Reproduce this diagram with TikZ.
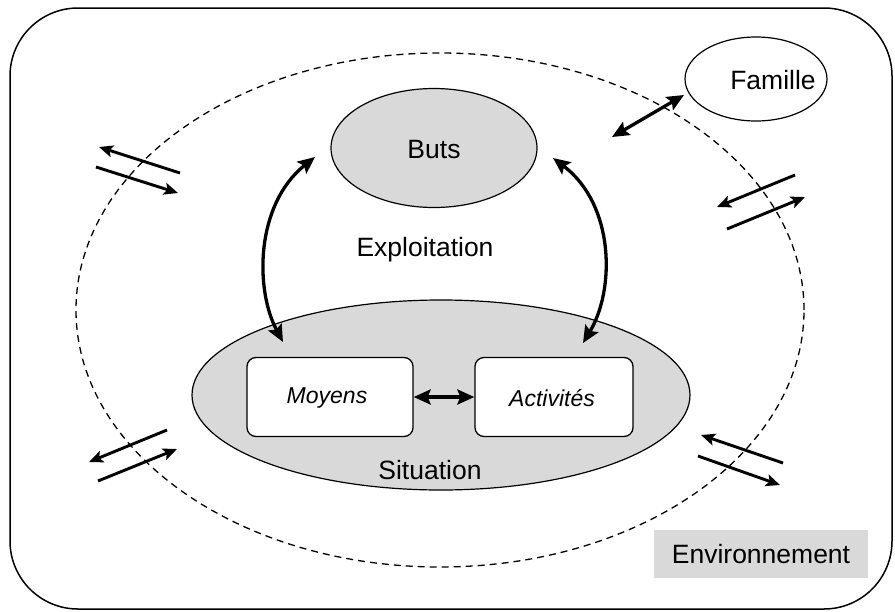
\documentclass[tikz,border=0pt]{standalone}
\usepackage{fontspec}
\setmainfont{Liberation Sans}
\usetikzlibrary{arrows.meta,shapes.geometric}
\definecolor{shade}{HTML}{D9D9D9}
\begin{document}
\begin{tikzpicture}[x=1pt,y=-1pt,
  lbl/.style={font=\fontsize{26.5}{31}\selectfont, inner sep=0pt},
  ilbl/.style={font=\fontsize{23}{27}\selectfont\itshape, inner sep=0pt},
  oval/.style={ellipse, draw, line width=1.2pt, inner sep=0pt},
  box/.style={draw, line width=1.3pt, fill=white, rounded corners=9pt, minimum width=166pt, minimum height=79pt, inner sep=0pt},
  big/.style={line width=3.3pt, {Stealth[length=17pt,width=15pt,inset=3pt]}-{Stealth[length=17pt,width=15pt,inset=3pt]}},
  small/.style={line width=2.9pt, -{Stealth[length=14pt,width=12pt,inset=3pt]}}]
\useasboundingbox (0,0) rectangle (895,611);
% outer frame
\draw[line width=1.5pt, rounded corners=68pt] (10,8) rectangle (892,609);
% environment ellipse
\node[ellipse, draw, dashed, dash pattern=on 7pt off 5pt, line width=1.3pt, minimum width=728pt, minimum height=514pt, inner sep=0pt] (env) at (440,310) {};
% Buts
\node[oval, fill=shade, minimum width=206pt, minimum height=119pt] (buts) at (434,148) {};
\node[lbl] (butst) at (434,150) {Buts};
% Famille
\node[oval, fill=white, minimum width=142pt, minimum height=84pt] (fam) at (756,79) {};
\node[lbl] (famt) at (773,80) {Famille};
% Situation
\node[oval, fill=shade, minimum width=498pt, minimum height=190pt] (sit) at (441,395) {};
\node[lbl] (sitt) at (430,470) {Situation};
\node[box] (moy) at (330,397) {};
\node[ilbl] (moyt) at (327,398) {Moyens};
\node[box, minimum width=158pt] (act) at (554,397) {};
\node[ilbl] (actt) at (552,398) {Activités};
\node[lbl] (expl) at (425,250) {Exploitation};
% Environnement
\node[fill=shade, minimum width=214pt, minimum height=48pt, inner sep=0pt] (envb) at (761,554) {};
\node[lbl] (envt) at (761,554) {Environnement};
% arrows
\draw[big] (moy.east) -- (act.west);
\coordinate (l1) at (315,157); \coordinate (l2) at (283,342);
\coordinate (r1) at (553,158); \coordinate (r2) at (583,343);
\draw[big] (l1) .. controls (255,205) and (255,290) .. (l2);
\draw[big] (r1) .. controls (615,205) and (615,290) .. (r2);
\coordinate (f1) at (612,137); \coordinate (f2) at (684,95);
\draw[big] (f1) -- (f2);
% pairs
\coordinate (a1) at (180,173); \coordinate (a2) at (99,147);
\coordinate (a3) at (96,167); \coordinate (a4) at (178,193);
\draw[small] (a1) -- (a2); \draw[small] (a3) -- (a4);
\coordinate (b1) at (795,175); \coordinate (b2) at (717,207);
\coordinate (b3) at (727,229); \coordinate (b4) at (805,197);
\draw[small] (b1) -- (b2); \draw[small] (b3) -- (b4);
\coordinate (c1) at (167,430); \coordinate (c2) at (89,462);
\coordinate (c3) at (98,481); \coordinate (c4) at (177,449);
\draw[small] (c1) -- (c2); \draw[small] (c3) -- (c4);
\coordinate (d1) at (783,463); \coordinate (d2) at (701,435);
\coordinate (d3) at (698,456); \coordinate (d4) at (780,485);
\draw[small] (d1) -- (d2); \draw[small] (d3) -- (d4);
\end{tikzpicture}
\end{document}
